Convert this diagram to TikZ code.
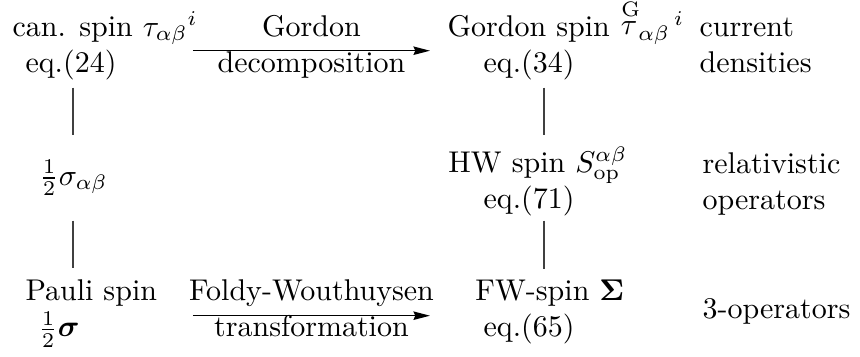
\documentclass[tikz,border=0pt]{standalone}
\usepackage{bm}
\usetikzlibrary{arrows.meta}
\tikzstyle{entry} = [inner sep=0pt, anchor=base west]
\tikzstyle{arrow} = [line width=0.5pt, -{Stealth[length=5.5pt,width=2.8pt,inset=0.6pt]}]
\tikzstyle{link} = [draw=black!75, line width=0.4pt, shorten <=2.5pt]
\tikzstyle{over} = [inner sep=0pt, anchor=base, yshift=4.9pt]
\tikzstyle{under} = [inner sep=0pt, anchor=base, yshift=-7.1pt]

\begin{document}
\begin{tikzpicture}[x=1pt,y=1pt]

\useasboundingbox (0,0) rectangle (286.67,-118.67);

% columns of the vertical links
\coordinate (colL) at (24.33,0);
\coordinate (colR) at (181.33,0);

% top row
\node (canA) [entry] at (4,-12) {can. spin ${\tau_{\alpha\beta}}^{i}$};
\node (canB) [entry] at (8.33,-24) {eq.(24)};
\node (gorA) [entry] at (149,-12) {Gordon spin ${\stackrel{\mathrm{G}}{\tau}}_{\alpha\beta}{}^{\,i}$};
\node (gorB) [entry] at (161,-24) {eq.(34)};
\node (curA) [entry] at (233,-12) {current};
\node (curB) [entry] at (233,-24) {densities};

% middle row
\node (half) [entry] at (13,-61.83) {$\frac{1}{2}\sigma_{\alpha\beta}$};
\node (hwA) [entry] at (149.3,-57.5) {HW spin $S^{\alpha\beta}_{\mathrm{op}}$};
\node (hwB) [entry] at (161,-69.5) {eq.(71)};
\node (relA) [entry] at (234,-57.7) {relativistic};
\node (relB) [entry] at (234,-69.7) {operators};

% bottom row
\node (pauA) [entry] at (8.33,-100.33) {Pauli spin};
\node (pauB) [entry] at (12.67,-112.33) {$\frac{1}{2}\bm{\sigma}$};
\node (fwA) [entry] at (158.3,-100.33) {FW-spin $\mathbf{\Sigma}$};
\node (fwB) [entry] at (161,-112.33) {eq.(65)};
\node (three) [entry] at (234,-106) {3-operators};

% transformations
\coordinate (gdStart) at (64.33,-16.9);
\coordinate (gdEnd) at (143.33,-16.9);
\coordinate (fwStart) at (64.33,-105.23);
\coordinate (fwEnd) at (143.33,-105.23);
\draw [arrow] (gdStart) -- node (gdTop) [over] {Gordon} node (gdBot) [under] {decomposition} (gdEnd);
\draw [arrow] (fwStart) -- node (fwTop) [over] {Foldy-Wouthuysen} node (fwBot) [under] {transformation} (fwEnd);

% vertical links
\draw [link, shorten >=8.06pt] (canB.south -| colL) -- (half.north -| colL);
\draw [link, shorten <=8.06pt, shorten >=3.72pt] (half.south -| colL) -- (pauA.north -| colL);
\draw [link, shorten >=3.68pt] (gorB.south -| colR) -- (hwA.north -| colR);
\draw [link, shorten <=1.33pt, shorten >=3.72pt] (hwB.south -| colR) -- (fwA.north -| colR);

\end{tikzpicture}
\end{document}
